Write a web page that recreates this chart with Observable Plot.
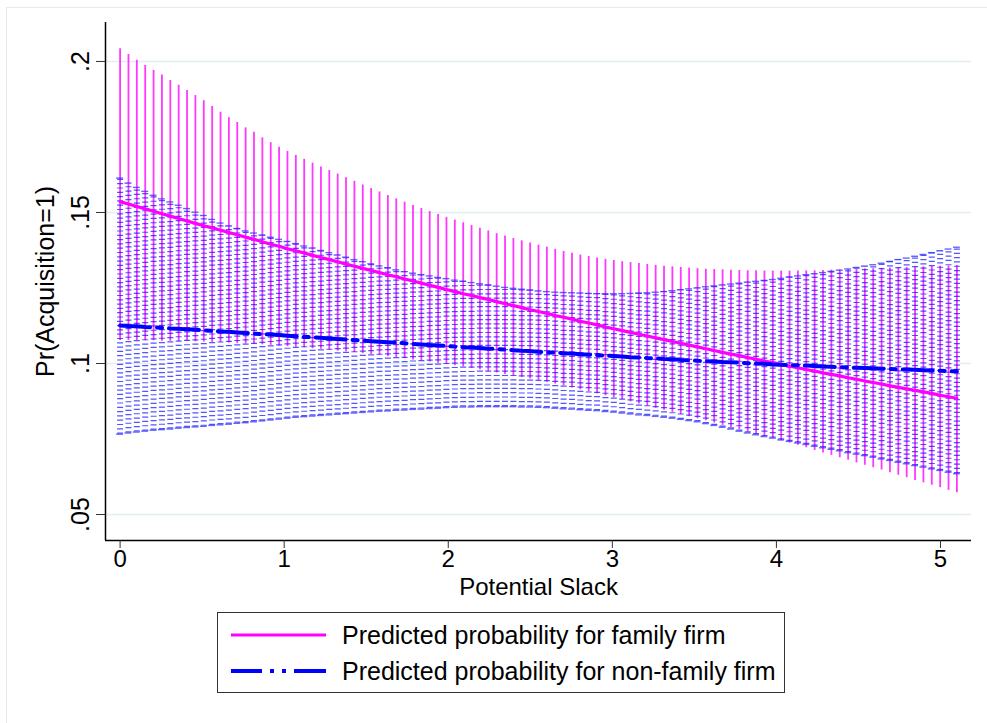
<!DOCTYPE html>
<html><head><meta charset="utf-8">
<script src="https://cdn.jsdelivr.net/npm/d3@7"></script>
<script src="https://cdn.jsdelivr.net/npm/@observablehq/plot@0.6"></script>
<style>
body{margin:0;background:#fff;width:987px;height:723px;overflow:hidden;position:relative;font-family:"Liberation Sans",Arial,sans-serif;}
#frame{position:absolute;left:6px;top:7px;width:990px;height:730px;border-left:1.5px solid #e4ecef;border-top:1.5px solid #e4ecef;}
#chart{position:absolute;left:0;top:0;}
#legend{position:absolute;left:217px;top:612px;width:566px;height:79px;border:1px solid #333;background:#fff;}
.row{position:absolute;left:0;width:566px;height:30px;}
.row svg{position:absolute;left:0;top:0;}
.row span{position:absolute;left:124px;top:0px;font-size:25px;line-height:30px;white-space:nowrap;color:#000;}
</style></head><body>
<div id="frame"></div><div id="chart"></div><div id="legend"></div>
<script>
const xs = [0,.051,.102,.153,.204,.255,.306,.357,.408,.459,
.51,.561,.612,.663,.714,.765,.816,.867,.918,.969,
1.02,1.071,1.122,1.173,1.224,1.275,1.326,1.377,1.428,1.479,
1.53,1.581,1.632,1.683,1.734,1.785,1.836,1.887,1.938,1.989,
2.04,2.091,2.142,2.193,2.244,2.295,2.346,2.397,2.448,2.499,
2.55,2.601,2.652,2.703,2.754,2.805,2.856,2.907,2.958,3.009,
3.06,3.111,3.162,3.213,3.264,3.315,3.366,3.417,3.468,3.519,
3.57,3.621,3.672,3.723,3.774,3.825,3.876,3.927,3.978,4.029,
4.08,4.131,4.182,4.233,4.284,4.335,4.386,4.437,4.488,4.539,
4.59,4.641,4.692,4.743,4.794,4.845,4.896,4.947,4.998,5.049,
5.1];
// family firm: predicted probability, upper and lower CI
const famMean = [.1536,.1528,.1520,.1512,.1504,.1496,.1488,.1480,.1472,.1464,
.1456,.1449,.1441,.1434,.1426,.1418,.1411,.1403,.1395,.1388,
.1380,.1373,.1366,.1358,.1351,.1344,.1337,.1329,.1322,.1315,
.1308,.1301,.1294,.1287,.1280,.1273,.1266,.1259,.1252,.1245,
.1238,.1231,.1225,.1218,.1212,.1205,.1198,.1192,.1185,.1178,
.1172,.1166,.1159,.1153,.1147,.1140,.1134,.1128,.1121,.1115,
.1109,.1103,.1097,.1091,.1085,.1079,.1073,.1067,.1061,.1055,
.1049,.1043,.1037,.1031,.1026,.1020,.1014,.1008,.1003,.0997,
.0991,.0986,.0980,.0975,.0969,.0964,.0959,.0953,.0948,.0942,
.0937,.0932,.0926,.0921,.0916,.0911,.0906,.0901,.0895,.0890,
.0885];
const famHi = [.2042,.2023,.2004,.1987,.1970,.1955,.1937,.1921,.1904,.1887,
.1870,.1851,.1832,.1814,.1798,.1780,.1766,.1747,.1731,.1716,
.1702,.1689,.1676,.1663,.1651,.1639,.1627,.1615,.1603,.1591,
.1579,.1568,.1556,.1545,.1534,.1523,.1513,.1503,.1493,.1484,
.1475,.1466,.1457,.1448,.1439,.1430,.1422,.1414,.1406,.1399,
.1392,.1385,.1378,.1371,.1365,.1359,.1354,.1349,.1345,.1341,
.1337,.1334,.1331,.1328,.1325,.1322,.1320,.1318,.1316,.1314,
.1312,.1311,.1310,.1309,.1308,.1307,.1307,.1306,.1306,.1306,
.1306,.1306,.1307,.1307,.1308,.1309,.1310,.1311,.1312,.1313,
.1314,.1315,.1316,.1317,.1318,.1319,.1320,.1321,.1322,.1323,
.1324];
const famLo = [.1076,.1076,.1076,.1075,.1075,.1074,.1074,.1073,.1073,.1072,
.1071,.1070,.1069,.1068,.1066,.1065,.1063,.1062,.1060,.1058,
.1056,.1054,.1052,.1049,.1047,.1044,.1041,.1039,.1036,.1033,
.1030,.1027,.1023,.1020,.1016,.1012,.1009,.1005,.1001,.0997,
.0993,.0989,.0984,.0979,.0974,.0969,.0964,.0959,.0954,.0949,
.0944,.0938,.0932,.0926,.0919,.0913,.0906,.0900,.0893,.0887,
.0880,.0873,.0866,.0859,.0852,.0845,.0838,.0831,.0824,.0817,
.0810,.0803,.0795,.0788,.0781,.0773,.0766,.0759,.0752,.0744,
.0737,.0729,.0721,.0712,.0704,.0696,.0688,.0680,.0671,.0663,
.0655,.0647,.0638,.0630,.0622,.0613,.0605,.0597,.0589,.0580,
.0572];
// non-family firm
const nonMean = [.1126,.1124,.1123,.1121,.1120,.1118,.1116,.1115,.1113,.1112,
.1110,.1108,.1106,.1105,.1103,.1101,.1099,.1097,.1096,.1094,
.1092,.1090,.1088,.1087,.1085,.1083,.1081,.1079,.1078,.1076,
.1074,.1072,.1070,.1069,.1067,.1065,.1063,.1061,.1060,.1058,
.1056,.1054,.1053,.1051,.1049,.1048,.1046,.1044,.1042,.1041,
.1039,.1037,.1036,.1034,.1033,.1031,.1029,.1028,.1026,.1025,
.1023,.1021,.1020,.1018,.1017,.1015,.1014,.1012,.1011,.1009,
.1008,.1007,.1005,.1004,.1003,.1001,.1000,.0999,.0997,.0996,
.0995,.0994,.0993,.0992,.0990,.0989,.0988,.0987,.0986,.0985,
.0984,.0983,.0982,.0981,.0980,.0979,.0978,.0977,.0976,.0975,
.0974];
const nonHi = [.1614,.1597,.1583,.1570,.1557,.1545,.1535,.1524,.1513,.1501,
.1490,.1477,.1465,.1455,.1447,.1439,.1432,.1425,.1418,.1411,
.1404,.1397,.1389,.1382,.1374,.1367,.1359,.1352,.1344,.1337,
.1330,.1323,.1317,.1310,.1304,.1299,.1294,.1290,.1285,.1281,
.1276,.1272,.1268,.1264,.1260,.1256,.1252,.1249,.1246,.1243,
.1240,.1238,.1236,.1235,.1234,.1233,.1232,.1231,.1231,.1231,
.1231,.1232,.1233,.1234,.1236,.1238,.1241,.1244,.1247,.1250,
.1254,.1257,.1260,.1263,.1266,.1269,.1272,.1275,.1278,.1282,
.1286,.1290,.1294,.1297,.1301,.1305,.1309,.1313,.1318,.1322,
.1327,.1332,.1338,.1344,.1349,.1355,.1361,.1367,.1373,.1379,
.1385];
const nonLo = [.0766,.0770,.0773,.0776,.0779,.0781,.0783,.0786,.0788,.0790,
.0792,.0795,.0797,.0799,.0802,.0804,.0807,.0810,.0813,.0816,
.0819,.0822,.0824,.0826,.0828,.0830,.0832,.0834,.0836,.0838,
.0840,.0842,.0843,.0845,.0846,.0848,.0849,.0851,.0852,.0854,
.0855,.0856,.0856,.0857,.0857,.0857,.0857,.0857,.0856,.0856,
.0855,.0854,.0852,.0850,.0849,.0847,.0845,.0844,.0841,.0839,
.0836,.0833,.0830,.0828,.0825,.0822,.0819,.0815,.0811,.0807,
.0801,.0795,.0789,.0783,.0776,.0770,.0764,.0758,.0753,.0747,
.0742,.0737,.0732,.0726,.0721,.0716,.0711,.0705,.0700,.0695,
.0690,.0684,.0679,.0673,.0668,.0662,.0657,.0651,.0646,.0640,
.0635];
const xTicks = [0,1,2,3,4,5];
const xTickLabels = ["0","1","2","3","4","5"];
const yTicks = [.05,.1,.15,.2];
const yTickLabels = [".05",".1",".15",".2"];
const xTitle = "Potential Slack";
const yTitle = "Pr(Acquisition=1)";
const seriesNames = ["Predicted probability for family firm","Predicted probability for non-family firm"];
const xDomain = [-0.089, 5.189];
const yDomain = [0.0414, 0.2129];

const rows = xs.map((x,i)=>({x, pm:famMean[i], ph:famHi[i], pl:famLo[i], bm:nonMean[i], bh:nonHi[i], bl:nonLo[i]}));
const capHalf = 0.021;
const PINK = "#ff00ff", BLUE = "#0000ff";

const chart = Plot.plot({
  width:987, height:608, marginLeft:105, marginRight:16, marginTop:22, marginBottom:68,
  x:{domain:xDomain}, y:{domain:yDomain},
  style:{fontFamily:'"Liberation Sans", Arial, sans-serif', fontSize:"25px", color:"#000", background:"transparent", overflow:"visible"},
  marks:[
    Plot.ruleY(yTicks,{stroke:"#e4edf0", strokeWidth:1.6}),
    Plot.ruleX(rows,{x:"x", y1:"pl", y2:"ph", stroke:"#ff22ff", strokeWidth:1.8, strokeOpacity:0.9}),
    Plot.ruleX(rows,{x:"x", y1:"bl", y2:"bh", stroke:"#1a1aff", strokeWidth:6, strokeDasharray:"1.2,3.1", strokeOpacity:0.75}),
    Plot.ruleY(rows,{y:"bh", x1:d=>d.x-capHalf, x2:d=>d.x+capHalf, stroke:"#3333ff", strokeWidth:1.4, strokeOpacity:0.75}),
    Plot.ruleY(rows,{y:"bl", x1:d=>d.x-capHalf, x2:d=>d.x+capHalf, stroke:"#3333ff", strokeWidth:1.4, strokeOpacity:0.75}),
    Plot.line(rows,{x:"x", y:"pm", stroke:PINK, strokeWidth:3.2}),
    Plot.line(rows,{x:"x", y:"bm", stroke:BLUE, strokeWidth:4, strokeDasharray:"30,7,5,7"}),
    Plot.ruleX([xDomain[0]],{stroke:"#000", strokeWidth:1.5}),
    Plot.ruleY([yDomain[0]],{stroke:"#000", strokeWidth:1.5}),
    Plot.axisX({ticks:xTicks, tickSize:8, tickPadding:1, tickFormat:d=>xTickLabels[xTicks.indexOf(d)], label:null, stroke:"#333", fontSize:24}),
    Plot.axisY({ticks:yTicks, tickSize:9, tickPadding:8, tickRotate:-90, tickFormat:d=>yTickLabels[yTicks.indexOf(d)], label:null, stroke:"#333", fontSize:25}),
    Plot.text([xTitle],{frameAnchor:"bottom", dy:54, text:d=>d, fontSize:24}),
    Plot.text([yTitle],{frameAnchor:"left", dx:-60, rotate:-90, textAnchor:"middle", text:d=>d, fontSize:25})
  ]
});
document.getElementById("chart").appendChild(chart);

// legend
const legend = d3.select("#legend");
const styles = [{stroke:PINK, width:3.2, dash:null},{stroke:BLUE, width:4, dash:"31,8,4,8,4,8,32"}];
seriesNames.forEach((name,i)=>{
  const row = legend.append("div").attr("class","row").style("top",(i===0?7:43)+"px");
  const svg = row.append("svg").attr("width",120).attr("height",30);
  const ln = svg.append("line").attr("x1",13).attr("x2",108).attr("y1",15).attr("y2",15)
    .attr("stroke",styles[i].stroke).attr("stroke-width",styles[i].width);
  if (styles[i].dash) ln.attr("stroke-dasharray",styles[i].dash);
  row.append("span").text(name);
});
</script></body></html>
